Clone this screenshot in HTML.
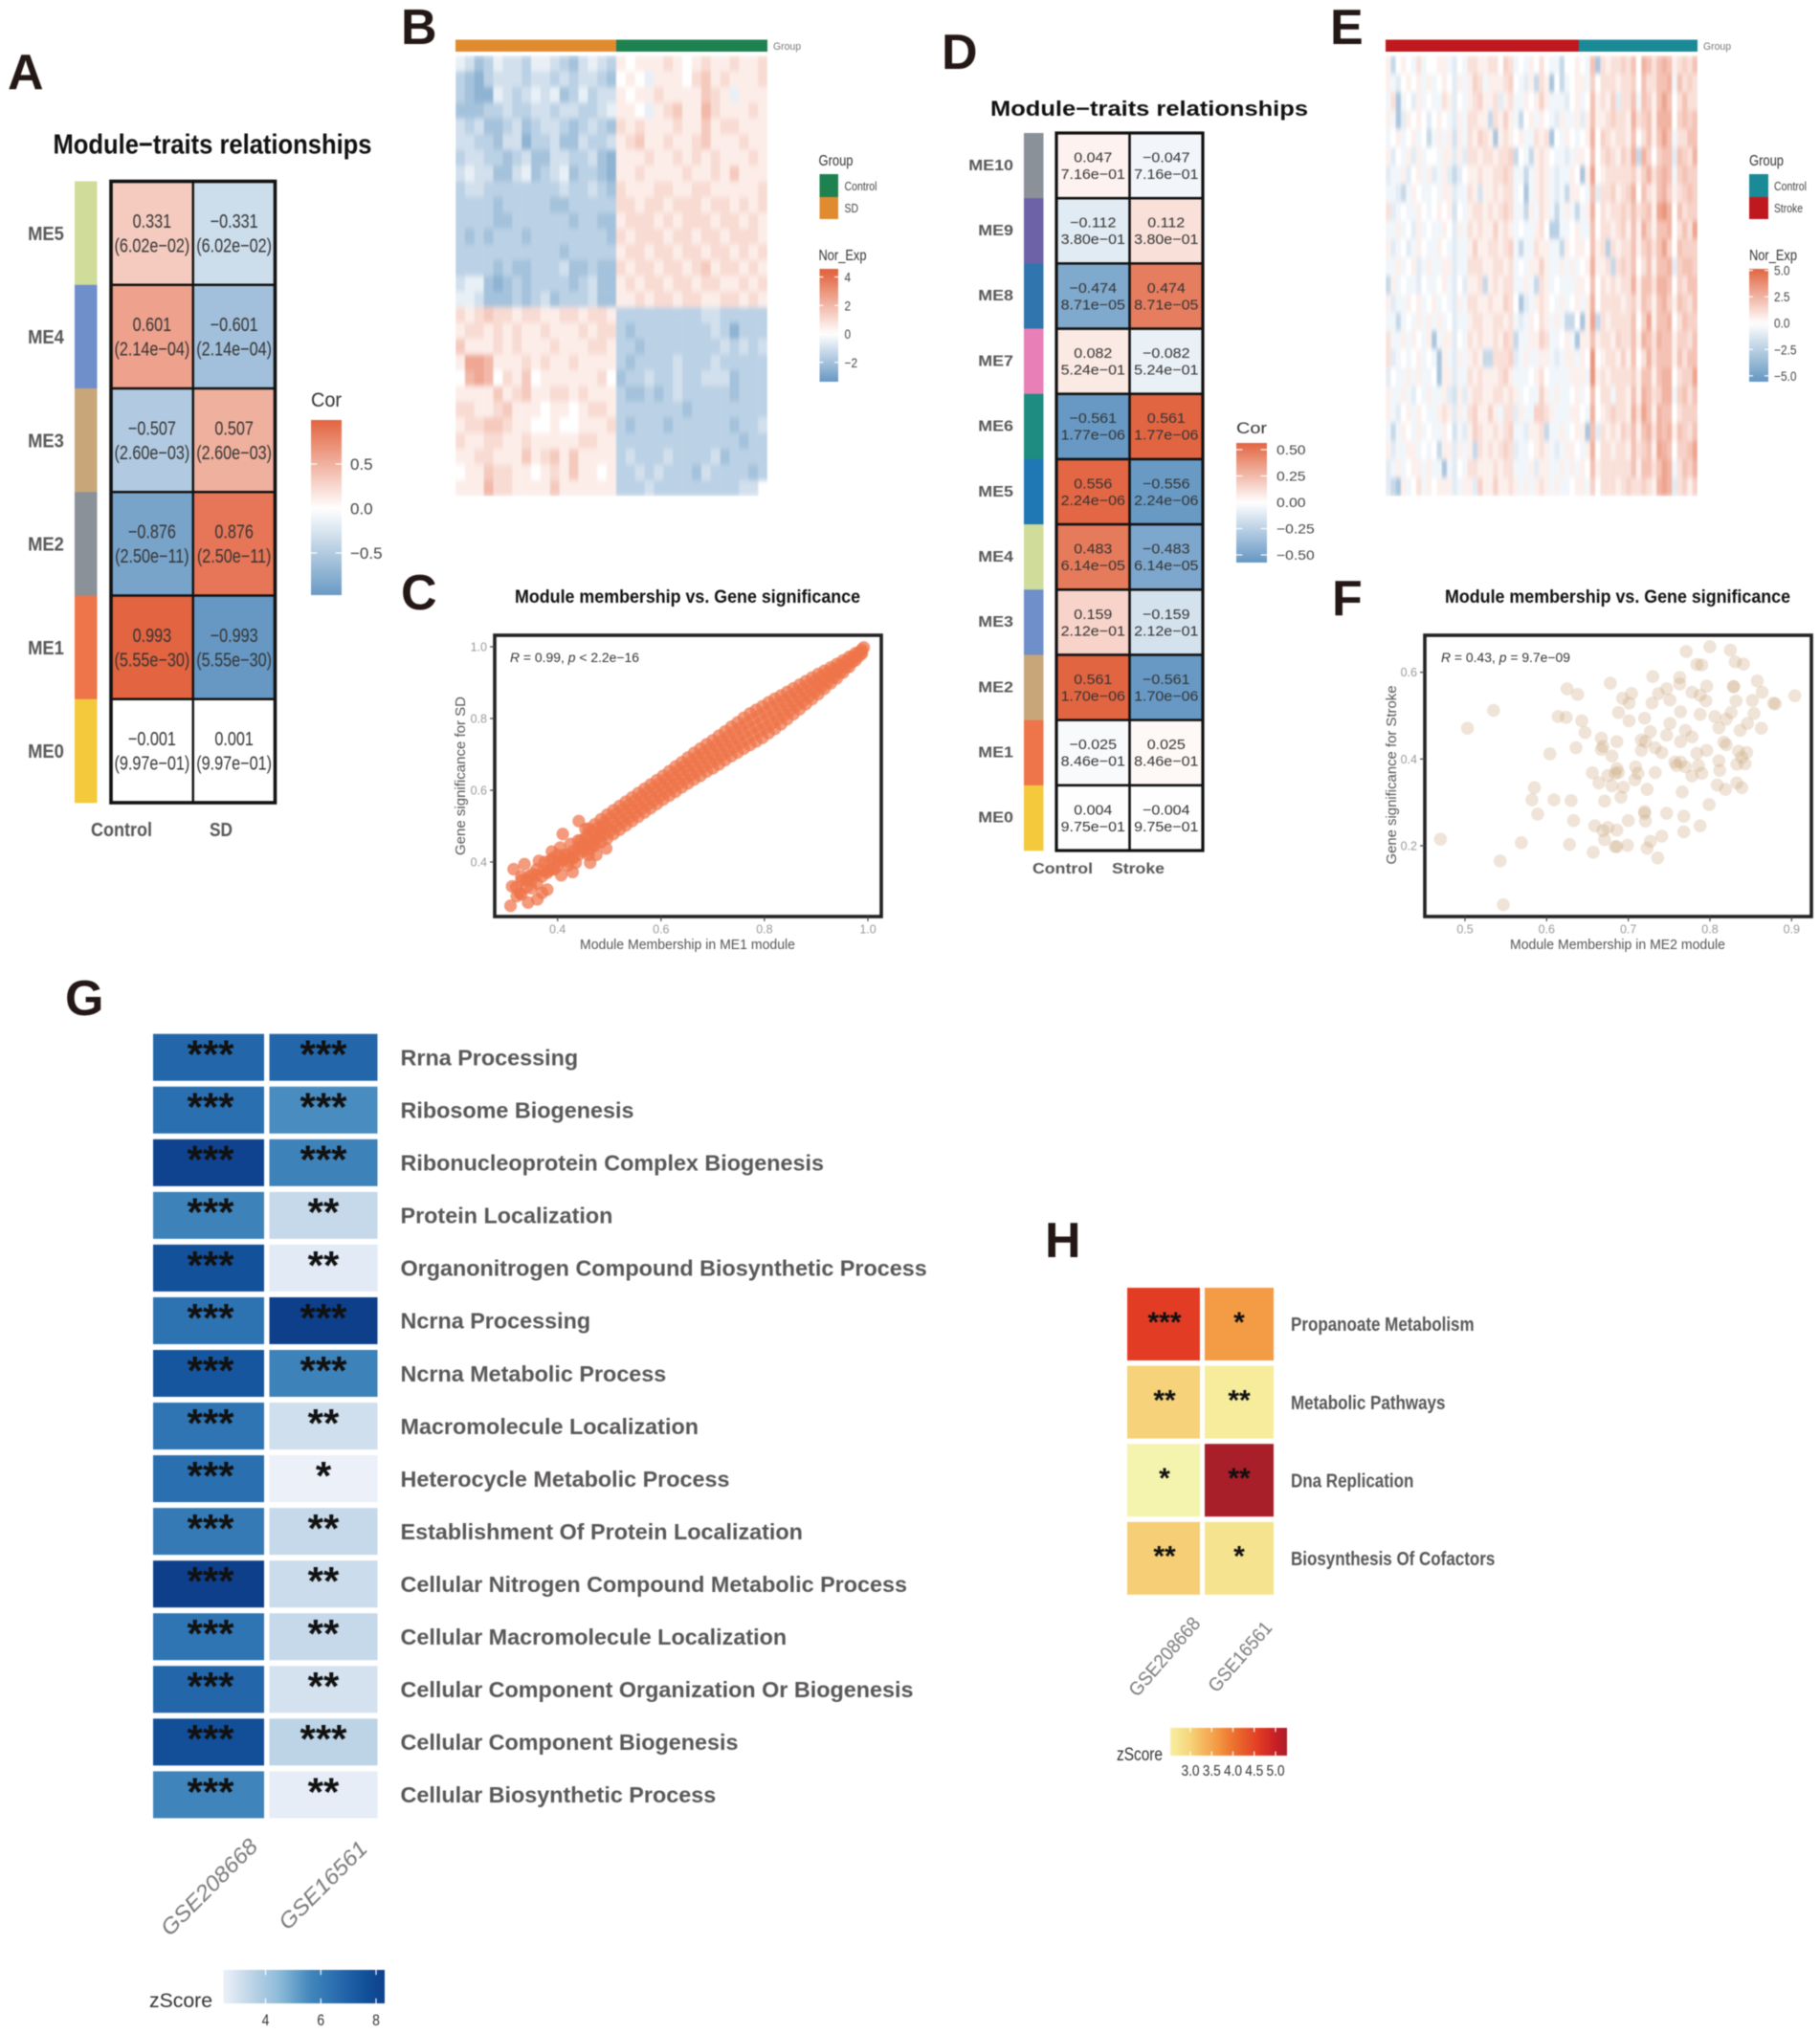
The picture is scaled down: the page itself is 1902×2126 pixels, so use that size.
<!DOCTYPE html>
<html lang="en">
<head>
<meta charset="utf-8">
<title>Module-trait relationships figure</title>
<style>
html,body{margin:0;padding:0;background:#fff}
#figure{display:block;filter:blur(.55px);font-family:"Liberation Sans",sans-serif}
.letter{font-size:52px;font-weight:bold;fill:#231815}
.scatter-title{font-size:19px;font-weight:bold;fill:#111}
.axis-title{font-size:15px;fill:#555}
.stat{font-size:14px;fill:#333}
.leg-title{font-size:15.5px;fill:#333}
.leg-label{font-size:13px;fill:#444}
.side-label{font-size:11px;fill:#777}
.gse{font-size:23px;fill:#7a7a7a}
.trait-col{font-weight:bold;fill:#595757}
</style>
</head>
<body>
<svg id="figure" xmlns="http://www.w3.org/2000/svg" width="1902" height="2126" viewBox="0 0 1902 2126">
<defs id="defs"></defs>
<rect x="0" y="0" width="1902" height="2126" fill="#fff"/>

<text class="letter" x="8" y="93">A</text>
<text class="letter" x="419" y="46">B</text>
<text class="letter" x="419" y="637">C</text>
<text class="letter" x="984" y="72">D</text>
<text class="letter" x="1390" y="46">E</text>
<text class="letter" x="1392" y="643">F</text>
<text class="letter" x="68" y="1061">G</text>
<text class="letter" x="1092" y="1314">H</text>

<g id="panel-a">
<text x="222" y="160.5" text-anchor="middle" font-size="29" font-weight="bold" fill="#111" textLength="333" lengthAdjust="spacingAndGlyphs">Module−traits relationships</text>
<text class="trait-col" x="127" y="874" text-anchor="middle" font-size="20" textLength="64" lengthAdjust="spacingAndGlyphs">Control</text>
<text class="trait-col" x="231" y="874" text-anchor="middle" font-size="20" textLength="24" lengthAdjust="spacingAndGlyphs">SD</text>
<text x="325" y="425" font-size="21" fill="#333" textLength="32" lengthAdjust="spacingAndGlyphs">Cor</text>
</g>

<g id="panel-b">
<rect x="476" y="41.5" width="168" height="12.5" fill="#e08b2f"/>
<rect x="644" y="41.5" width="158" height="12.5" fill="#1d8250"/>
<text class="side-label" x="808" y="52" textLength="29" lengthAdjust="spacingAndGlyphs">Group</text>
<text class="leg-title" x="855.5" y="173" textLength="36" lengthAdjust="spacingAndGlyphs">Group</text>
<rect x="856.5" y="182" width="19.5" height="24" fill="#1d8250"/>
<rect x="856.5" y="206" width="19.5" height="23" fill="#e08b2f"/>
<text class="leg-label" x="882.5" y="199" textLength="34" lengthAdjust="spacingAndGlyphs">Control</text>
<text class="leg-label" x="882.5" y="222" textLength="14.5" lengthAdjust="spacingAndGlyphs">SD</text>
<text class="leg-title" x="855.5" y="272" textLength="50" lengthAdjust="spacingAndGlyphs">Nor_Exp</text>
</g>

<g id="panel-c">
<text class="scatter-title" x="718.5" y="630" text-anchor="middle" textLength="361" lengthAdjust="spacingAndGlyphs">Module membership vs. Gene significance</text>
<text class="axis-title" x="718.5" y="992" text-anchor="middle" textLength="225" lengthAdjust="spacingAndGlyphs">Module Membership in ME1 module</text>
<text class="axis-title" transform="translate(486 811) rotate(-90)" text-anchor="middle" textLength="166" lengthAdjust="spacingAndGlyphs">Gene significance for SD</text>
</g>

<g id="panel-d">
<text x="1201" y="121" text-anchor="middle" font-size="22" font-weight="bold" fill="#111" textLength="332" lengthAdjust="spacingAndGlyphs">Module−traits relationships</text>
<text class="trait-col" x="1110.5" y="913" text-anchor="middle" font-size="16" textLength="63" lengthAdjust="spacingAndGlyphs">Control</text>
<text class="trait-col" x="1189.5" y="913" text-anchor="middle" font-size="16" textLength="55" lengthAdjust="spacingAndGlyphs">Stroke</text>
<text x="1292" y="453" font-size="17" fill="#333" textLength="32" lengthAdjust="spacingAndGlyphs">Cor</text>
</g>

<g id="panel-e">
<rect x="1448" y="41.5" width="202" height="12.5" fill="#c0181f"/>
<rect x="1650" y="41.5" width="124" height="12.5" fill="#1a8a96"/>
<text class="side-label" x="1780" y="52" textLength="29" lengthAdjust="spacingAndGlyphs">Group</text>
<text class="leg-title" x="1828" y="173" textLength="36" lengthAdjust="spacingAndGlyphs">Group</text>
<rect x="1828" y="182" width="20" height="24" fill="#1a8a96"/>
<rect x="1828" y="206" width="20" height="23" fill="#c0181f"/>
<text class="leg-label" x="1854" y="199" textLength="34" lengthAdjust="spacingAndGlyphs">Control</text>
<text class="leg-label" x="1854" y="222" textLength="30" lengthAdjust="spacingAndGlyphs">Stroke</text>
<text class="leg-title" x="1828" y="272" textLength="50" lengthAdjust="spacingAndGlyphs">Nor_Exp</text>
</g>

<g id="panel-f">
<text class="scatter-title" x="1690.5" y="630" text-anchor="middle" textLength="361" lengthAdjust="spacingAndGlyphs">Module membership vs. Gene significance</text>
<text class="axis-title" x="1690.5" y="992" text-anchor="middle" textLength="225" lengthAdjust="spacingAndGlyphs">Module Membership in ME2 module</text>
<text class="axis-title" transform="translate(1459 810) rotate(-90)" text-anchor="middle" textLength="187" lengthAdjust="spacingAndGlyphs">Gene significance for Stroke</text>
</g>

<g id="panel-g">
<text class="gse" font-style="italic" transform="translate(224 1978) rotate(-45)" text-anchor="middle" textLength="132" lengthAdjust="spacingAndGlyphs">GSE208668</text>
<text class="gse" font-style="italic" transform="translate(343 1976) rotate(-45)" text-anchor="middle" textLength="120" lengthAdjust="spacingAndGlyphs">GSE16561</text>
<text x="156" y="2098" font-size="21" fill="#333" textLength="66" lengthAdjust="spacingAndGlyphs">zScore</text>
</g>

<g id="panel-h">
<text class="gse" style="font-size:20px" transform="translate(1222 1736) rotate(-49)" text-anchor="middle" textLength="102" lengthAdjust="spacingAndGlyphs">GSE208668</text>
<text class="gse" style="font-size:20px" transform="translate(1301 1736) rotate(-49)" text-anchor="middle" textLength="90" lengthAdjust="spacingAndGlyphs">GSE16561</text>
<text x="1167" y="1840" font-size="19" fill="#333" textLength="48" lengthAdjust="spacingAndGlyphs">zScore</text>
</g>
</svg>

<script>
/* ---------- Panel A data ---------- */
const modulesA = ['ME5','ME4','ME3','ME2','ME1','ME0'];
const corA1 = [0.331,0.601,-0.507,-0.876,0.993,-0.001];
const corA2 = [-0.331,-0.601,0.507,0.876,-0.993,0.001];
const pvalA = ['6.02e−02','2.14e−04','2.60e−03','2.50e−11','5.55e−30','9.97e−01'];
const colorsA = ['#cfdc9a','#6f8fcb','#c9a67a','#8b9199','#ee7549','#f4c93c'];
const ticksA = [0.5,0,-0.5];

/* ---------- Panel D data ---------- */
const modulesD = ['ME10','ME9','ME8','ME7','ME6','ME5','ME4','ME3','ME2','ME1','ME0'];
const corD1 = [0.047,-0.112,-0.474,0.082,-0.561,0.556,0.483,0.159,0.561,-0.025,0.004];
const corD2 = [-0.047,0.112,0.474,-0.082,0.561,-0.556,-0.483,-0.159,-0.561,0.025,-0.004];
const pvalD = ['7.16e−01','3.80e−01','8.71e−05','5.24e−01','1.77e−06','2.24e−06','6.14e−05','2.12e−01','1.70e−06','8.46e−01','9.75e−01'];
const colorsD = ['#8b9199','#6d62a8','#3075ad','#e87fb6','#1e8c80','#1f78b4','#cfdc9a','#6f8fcb','#c9a67a','#ee7549','#f4c93c'];
const ticksD = [0.5,0.25,0,-0.25,-0.5];

/* ---------- Panel B expression (17 SD + 16 Control samples, binned rows) ---------- */
const ticksB = [4,2,0,-2];
const exprB = [
[-.5,-1,-2,-1.5,-.5,-1,-1,-1.5,-.5,-.5,-1,-1.5,-2,-1,-.5,-1,-1.5,.5,0,.5,.5,.5,1,.5,0,.5,1,.5,.5,1,.5,.5,1],
[-1.5,-2,-2.5,-1.5,-1,-1,-1,-1.5,-1,-1,-1.5,-1,-1.5,-1,-1,-1.5,-2,0,.5,0,-.5,.5,.5,.5,0,1,1.5,.5,1,.5,.5,.5,1],
[-1.5,-2,-2.5,-2.5,-.5,-1,-1.5,-1,-.5,-1,-.5,-2,-1.5,-.5,-1.5,-1,-1,.5,0,.5,.5,1,.5,.5,.5,.5,1.5,1,.5,-.5,.5,.5,.5],
[-2,-2,-2,-1.5,-1.5,-1,-1.5,-1.5,-1,-1,-1.5,-1,-1,-1.5,-1.5,-1,-.5,.5,.5,0,-.5,.5,1,1.5,.5,.5,2,1,.5,.5,.5,1,.5],
[-1,-1.5,-1,-2,-2,-1.5,-1,-2,-1.5,-1,-1,-1.5,-2,-1.5,-1,-1.5,-2,1,.5,1,.5,.5,.5,1,.5,.5,1.5,.5,1,1,.5,.5,.5],
[-1,-1,-1.5,-1.5,-2,-1,-1,-2.5,-1.5,-1.5,-1,-2,-2,-1,-1.5,-1.5,-1,.5,1,1.5,.5,.5,1,.5,.5,1,1.5,.5,.5,.5,1,.5,.5],
[-1.5,-1,-1,-1.5,-1.5,-2,-1.5,-1,-2,-2,-1,-1,-1.5,-1.5,-1,-2,-2.5,.5,.5,.5,1,.5,.5,1,.5,1,.5,1,.5,.5,.5,1,.5],
[-1,-.5,-1,-1,-2,-2,-1,-.5,-2,-1.5,-1,-.5,-2,-1.5,-1.5,-2,-2.5,.5,.5,1,.5,.5,.5,.5,1,.5,.5,1,.5,1.5,.5,.5,.5],
[-1.5,-1,-1,-1.5,-1.5,-1.5,-1.5,-1.5,-1.5,-1.5,-1.5,-1,-1.5,-1.5,-1,-1.5,-2,1,.5,.5,.5,1,1,.5,.5,1,1,.5,.5,.5,.5,.5,1],
[-1.5,-1.5,-1.5,-1.5,-2,-1.5,-1.5,-1.5,-1.5,-1.5,-2,-2,-1.5,-1.5,-1.5,-1.5,-1.5,1,1,.5,1,1,.5,1,1,1,.5,1,1,.5,1,.5,1],
[-1.5,-1.5,-1.5,-1.5,-2,-2,-1.5,-1.5,-1.5,-1.5,-1.5,-1.5,-2,-1.5,-1.5,-2,-2,.5,1,1,1,.5,1,.5,1,1,1,.5,1,1,.5,1,.5],
[-1.5,-2,-1.5,-2,-1.5,-1.5,-1.5,-2,-1.5,-1.5,-1.5,-1.5,-1.5,-1.5,-1.5,-1.5,-2,1,.5,1,1,1,.5,1,1,.5,1,1,.5,1,1,1,.5],
[-1.5,-1.5,-1.5,-1.5,-1.5,-1.5,-1.5,-1.5,-1.5,-1.5,-1.5,-2,-1.5,-1.5,-1.5,-1.5,-1.5,.5,1,1,.5,1,1,.5,1,1,.5,1,1,.5,1,.5,1],
[-1.5,-1.5,-1.5,-1.5,-2,-1.5,-2,-2,-1.5,-1.5,-1.5,-1,-2,-2,-1.5,-2,-2,1,.5,1,1,.5,1,1,.5,1,1.5,.5,1,1,.5,1,.5],
[-1,-.5,-.5,-2,-2.5,-2,-1.5,-2,-1.5,-1.5,-1.5,-1.5,-2,-1.5,-1,-2,-2,.5,1,.5,1,1,.5,1,1,.5,1,1,.5,.5,1,.5,1],
[-.5,-.5,-1,-2,-2,-2,-1.5,-2,-1.5,-1,-2,-1.5,-1.5,-1.5,-1,-2,-2,.5,.5,1,.5,1,1,.5,1,1,.5,.5,1,1,.5,1,.5],
[1,.5,1,1.5,1,1,.5,1,1,.5,.5,1,1,.5,1,1,.5,-1.5,-1.5,-1.5,-1.5,-1.5,-1.5,-1.5,-1.5,-1.5,-1,-1,-1.5,-1.5,-1.5,-1.5,-1.5],
[.5,1,1,.5,1,.5,1,.5,.5,1,.5,.5,.5,1,.5,1,1,-1.5,-2,-1.5,-1.5,-1.5,-1.5,-1.5,-1.5,-1.5,-1.5,-1,-1.5,-2.5,-1.5,-1.5,-1.5],
[1.5,.5,.5,.5,1,.5,1,.5,.5,.5,1,.5,.5,.5,1,1,.5,-1.5,-1.5,-2,-1.5,-1.5,-1.5,-1.5,-1.5,-1.5,-1.5,-1.5,-1,-1.5,-1,-1.5,-1],
[.5,2.5,2.5,2,.5,.5,.5,1,.5,1,.5,.5,1,.5,.5,.5,.5,-1.5,-2,-1.5,-1.5,-1.5,-1.5,-1,-1.5,-1.5,-1.5,-1,-1.5,-1.5,-1.5,-1.5,-1.5],
[0,2,2.5,2,0,1,.5,1.5,0,.5,.5,.5,.5,.5,.5,1,0,-2,-1.5,-1.5,-1,-1.5,-1.5,-1,-1.5,-1.5,-1,-1,-1,-2,-1.5,-1.5,-1.5],
[.5,.5,.5,.5,1.5,.5,1,1.5,.5,.5,1,1,.5,1,.5,.5,.5,-1.5,-2,-2,-1.5,-2,-1.5,-1,-1.5,-1.5,-1.5,-1.5,-1.5,-2,-1.5,-1.5,-1.5],
[1,1,.5,.5,1,1.5,.5,.5,.5,0,.5,.5,0,.5,1,1,.5,-1.5,-1.5,-1.5,-1.5,-1.5,-1.5,-1.5,-2,-1.5,-1.5,-1.5,-1.5,-1.5,-1.5,-1.5,-1.5],
[.5,1,1,1.5,1.5,1,.5,.5,0,0,.5,0,0,.5,.5,.5,1,-1.5,-2,-1.5,-1.5,-1.5,-2,-1.5,-1.5,-1.5,-1.5,-1.5,-1.5,-2,-1.5,-1.5,-1],
[1,.5,.5,1,1,.5,.5,1,.5,.5,.5,.5,.5,1,1,.5,.5,-1.5,-1.5,-1.5,-1.5,-1.5,-1.5,-1.5,-1.5,-1.5,-1.5,-1.5,-1.5,-1.5,-2,-1.5,-1.5],
[.5,.5,1,1,.5,.5,.5,1.5,.5,1,1.5,.5,1.5,.5,.5,.5,.5,-1.5,-1,-1.5,-1.5,-1.5,-1,-1.5,-1.5,-1.5,-1.5,-1,-2,-1.5,-1.5,-1.5,-1.5],
[0,.5,.5,1.5,1,1,.5,.5,0,.5,1,.5,1.5,.5,.5,0,.5,-1.5,-1.5,-1,-1.5,-1,-1.5,-1.5,-1.5,-2,-1,-1.5,-1.5,-1.5,-1.5,-2,-1.5],
[.5,.5,.5,2,1,1,.5,.5,.5,.5,1.5,.5,.5,.5,.5,.5,.5,-1.5,-1.5,-1.5,-1,-1.5,-1.5,-1.5,-1.5,-1.5,-1.5,-1.5,-1.5,-1.5,-1,-1]
];

/* ---------- Panel E expression (38 Stroke + 23 Control samples, binned rows) ---------- */
const ticksE = [5,2.5,0,-2.5,-5];
const exprE = [
[.5,-2,0,.5,0,-.5,1,-.5,0,0,.5,.5,-.5,-1,0,-.5,1,1,.5,.5,1,1,0,1.5,1,-.5,0,-.5,.5,0,1,0,-.5,-.5,-2,0,0,.5,0,-.5,2,-3,1,.5,1,1,1.5,1,2,0,2.5,2,1,2,2.5,2,.5,1,1.5,1,2],
[.5,-.5,-1,0,.5,0,.5,-.5,.5,-.5,0,.5,0,-1,.5,-.5,.5,1.5,1,-.5,.5,.5,.5,1,1.5,0,-.5,-1,.5,-2,1,.5,-3,0,-2,-.5,0,.5,.5,-.5,1.5,0,1,1,1,.5,1,1,1.5,0,2,1,1,2,2,2.5,-.5,2,1,1.5,1],
[-.5,1,-3,-.5,0,-1,.5,-.5,0,-.5,-.5,1,.5,-1,0,-.5,.5,1,1.5,.5,.5,1,-1,.5,1,-.5,-.5,.5,0,.5,1.5,.5,-.5,-.5,-.5,-1,0,.5,-.5,0,2,.5,1,.5,1.5,-1,1,1,2,-.5,2,1.5,.5,2,3,2,0,1,2,1,1],
[.5,-.5,-3,-1,.5,0,.5,0,-1,0,.5,0,-.5,-1,.5,-.5,1,1,.5,.5,-2,1,.5,1.5,.5,-.5,-2,0,.5,-.5,.5,0,-.5,-1,.5,-.5,-.5,.5,-1,.5,2,.5,.5,1,1.5,1,1,.5,2.5,1,1.5,2,.5,2.5,2.5,2.5,0,1.5,2,1.5,2],
[-.5,0,.5,-.5,0,.5,-.5,0,-2,-.5,.5,-.5,.5,-1.5,.5,-.5,1,.5,1.5,1,.5,-3,.5,1,.5,0,.5,-.5,-.5,1,.5,1,-3,0,-.5,.5,0,-.5,0,.5,2.5,0,1.5,1,.5,1,1,.5,2,0,1,2,.5,2,3,2,-.5,1,1,2,2],
[.5,-1,0,-.5,.5,-1,.5,-.5,0,0,-.5,.5,.5,-1,.5,-1,1,1,.5,1,1,.5,1,1,1.5,-2,0,-.5,-2,.5,1,.5,0,-.5,-.5,-1,-.5,.5,.5,0,2,0,1,1.5,1,.5,1.5,1,2.5,-2,2.5,1.5,0,1.5,2,2,-1,2,1.5,1,2.5],
[-1,-.5,-.5,.5,-1,0,.5,-.5,.5,-1,-.5,.5,-1,-2,-1,0,.5,.5,1,.5,.5,1,1,1.5,1,-.5,-.5,-2,-.5,.5,1,.5,-.5,-1,-.5,-.5,.5,0,-3,.5,3,0,.5,1,1,1,1,1,1.5,.5,1.5,2.5,1,2,2.5,2,-.5,1.5,2,1.5,1.5],
[-.5,-.5,-1,-2,-.5,.5,0,-.5,-.5,0,-.5,.5,.5,-1,-.5,-.5,1,.5,-1.5,.5,.5,1,.5,1,1,-.5,0,-3,-.5,.5,1,.5,-.5,-1,-.5,-2,.5,.5,0,-.5,2,-1,1,1,1.5,.5,1,1.5,2.5,0,2,1,.5,2,2.5,1.5,.5,1,1.5,2,1.5],
[1,-1,-.5,0,-.5,-.5,.5,0,-.5,0,.5,0,.5,-1.5,0,-.5,.5,1,1,.5,1,.5,1,1.5,1,-.5,-.5,-2,.5,-.5,1,.5,-.5,-2,-.5,.5,-.5,-2,-.5,.5,2.5,0,1,.5,1,1,1.5,1,2,1,1.5,2,.5,3,3.5,2.5,0,2,1,1.5,1.5],
[-.5,-.5,.5,-.5,0,-1,.5,-.5,0,-.5,-.5,.5,0,-1,.5,-.5,1,.5,1,.5,.5,1.5,.5,1,.5,-.5,0,-.5,-.5,.5,1,0,-2.5,-2.5,-.5,-.5,0,.5,-.5,-.5,2,0,1,1,.5,1,1.5,.5,2,.5,2.5,1.5,.5,2,2,2.5,0,1,2,1,3],
[.5,-1,-.5,0,-1,-.5,.5,0,-.5,-.5,.5,0,-.5,-1,-.5,-.5,.5,1.5,.5,.5,1,1,.5,1,1.5,-.5,-2,-.5,-.5,1,.5,.5,-.5,-.5,-2,.5,0,.5,.5,0,2,.5,1,-2.5,1,.5,1,1,2,.5,1.5,2,1,2,3,1.5,0,2,1.5,1.5,1.5],
[-.5,-.5,.5,-.5,0,.5,-1,-.5,.5,-.5,-.5,.5,.5,-1,-.5,-.5,1,1,1,.5,.5,1,1,.5,1,-.5,0,-.5,.5,.5,1.5,.5,-.5,-.5,.5,-.5,.5,-.5,0,.5,2.5,.5,.5,1,-2,1,1.5,1,2,0,1,2,.5,2,2,2.5,-1,1.5,2,2,1.5],
[-2,.5,-.5,0,-.5,-.5,-1,0,-.5,-.5,0,.5,-.5,-1,0,-1,.5,.5,1,-2,.5,1,.5,1,1,-.5,-.5,.5,-.5,-2,1,.5,-.5,0,-.5,-.5,-.5,.5,.5,0,2,0,1,.5,1,.5,1,1,2.5,.5,2,2,1,2.5,2.5,2,0,1.5,1,2,2],
[.5,-1,-.5,-.5,.5,0,.5,-.5,0,.5,-.5,0,-.5,-1,.5,-.5,1,1,.5,.5,1,.5,.5,1.5,1,0,-3,-1,-.5,.5,1,.5,0,-.5,.5,-.5,0,.5,-.5,.5,2.5,0,1,1,1,1,.5,1,1.5,.5,2,1.5,.5,2,2.5,1.5,.5,2,1.5,1,2],
[-.5,-.5,-2,-.5,0,-.5,.5,-.5,.5,-.5,.5,-.5,0,-1,-.5,-.5,.5,1,1,.5,.5,1,1,.5,1,-.5,-1,-.5,.5,0,1,.5,-.5,.5,-.5,-2,-2,0,-3,.5,3,-2,1,.5,1,1,1,1,2,0,1.5,3,.5,2,2,2.5,0,1,2,1.5,1.5],
[1,-.5,-.5,.5,-.5,.5,0,-.5,.5,-3,-.5,.5,.5,-1,0,-.5,1,.5,1,.5,.5,1,.5,1.5,1,-2,-.5,-.5,.5,.5,1.5,1,-.5,-.5,0,.5,-.5,-3,.5,.5,2,.5,1,1,.5,1.5,1,1,2,.5,2.5,2,1,2.5,2,2,.5,1.5,1.5,1,2],
[1,-1,-.5,0,-.5,0,.5,-.5,0,-.5,-3,.5,-.5,-1,.5,-.5,.5,1,.5,-2,-2,1,1,1,1.5,-1,-.5,.5,-.5,-.5,.5,.5,-.5,-1,-.5,.5,.5,-.5,.5,0,3.5,0,.5,1,1,.5,1.5,.5,2,0,1,2.5,1,2,2,2,.5,2,1,2,2],
[-1,0,-.5,-.5,.5,-.5,.5,-.5,-.5,0,-3,.5,.5,-1,-.5,-.5,1,.5,1,.5,.5,.5,1,1.5,.5,-.5,-.5,-.5,0,.5,1,0,-.5,-.5,-.5,-.5,.5,.5,.5,-.5,3.5,.5,1,.5,1,1,1,1,1.5,.5,2,2,.5,2,2.5,2.5,0,1,1.5,1.5,3],
[.5,-.5,-.5,.5,-.5,-1,0,-.5,.5,-.5,-.5,.5,-1,-1.5,.5,-1,.5,1,1,.5,.5,1,1,.5,1,.5,-.5,0,-.5,-.5,1.5,.5,-.5,.5,-.5,-.5,0,.5,-.5,0,2,0,1,1,-.5,1,1,.5,2,.5,2.5,2,1,1.5,2.5,2.5,-.5,1.5,2,1,2],
[.5,-.5,-1,0,.5,-.5,.5,0,-.5,-.5,.5,1,.5,-1,.5,-.5,1,1.5,.5,.5,1.5,.5,-.5,1,1,-1,.5,-.5,-.5,1.5,1.5,1,.5,-.5,-.5,-.5,.5,.5,0,-.5,2.5,0,.5,1,1.5,1,1,.5,2.5,1,3,2,.5,2.5,2,2,0,1,1.5,1.5,1.5],
[-.5,-2,-.5,.5,0,-.5,.5,-.5,0,-.5,-.5,.5,0,-1.5,-.5,-1,.5,1.5,1,.5,.5,1,.5,1,1.5,-.5,-.5,-1,.5,.5,1,-2,-.5,-.5,.5,-.5,0,.5,.5,-3,2,-1,1,.5,1,.5,1.5,1,2,.5,2,2.5,1,2.5,2,2.5,.5,2,1.5,1,2],
[.5,-1,-.5,-.5,.5,.5,-.5,0,-.5,0,-2,.5,.5,-1,.5,-.5,.5,-2,1,.5,1,.5,1,1.5,1,-1,-.5,-.5,0,.5,1,.5,-.5,-1,-.5,.5,.5,0,-.5,.5,2.5,0,1,1,.5,1,1,.5,2,1,1.5,2,.5,3,2.5,2,0,1.5,1.5,2,3],
[-1,-.5,.5,-.5,0,.5,.5,-.5,.5,-.5,-.5,-3,-.5,-1,0,-.5,1,1,.5,.5,.5,1,.5,1,1,-.5,-.5,-.5,.5,-1,.5,.5,-.5,-.5,.5,-.5,.5,-.5,.5,0,2,.5,1,1,1,1,1,1,2,.5,2,2,1,2,3,2.5,-.5,1,2,1.5,2.5],
[-1,-2,-3,.5,-.5,0,1,-.5,.5,0,.5,.5,.5,-1,-.5,.5,.5,-1,1.5,.5,.5,1.5,.5,.5,1,.5,-.5,.5,-.5,.5,1,.5,-.5,.5,-.5,-.5,0,.5,.5,-.5,1.5,0,1,1,1,.5,1,1.5,1,1,1.5,1,.5,2.5,3,2.5,-1,1,1.5,.5,1.5]
];

/* ---------- Panel C scatter ---------- */
const xTicksC = [0.4,0.6,0.8,1.0];
const yTicksC = [0.4,0.6,0.8,1.0];
const mmC = [.309,.312,.315,.33,.336,.343,.349,.358,.364,.361,.37,.38,.386,.389,.401,.407,.414,.41,.42,.429,.441,.435,.447,.454,.463,.469,.475,.481,.488,.494,.327,.34,.352,.321,.373,.394,.383,.42,.43,.44,.45,.41,.43,.445,
.32,.33,.34,.35,.36,.37,.38,.39,.4,.41,.4,.42,.43,.44,.45,.44,.455,.46,.33,.345,.36,.375,.39,.405,.425,
.46,.46,.46,.466,.466,.472,.472,.472,.478,.478,.484,.484,.484,.49,.49,.496,.496,.496,.502,.502,.508,.508,.508,.514,.514,.52,.52,.52,.526,.526,.532,.532,.532,.538,.538,.544,.544,.544,.55,.55,.556,.556,.556,.562,.562,.568,.568,.568,.574,.574,.58,.58,.58,.586,.586,.592,.592,.592,.598,.598,.604,.604,.604,.61,.61,.616,.616,.616,.622,.622,.628,.628,.628,.634,.634,.64,.64,.64,.646,.646,.652,.652,.652,.658,.658,.664,.664,.664,.67,.67,.676,.676,.676,.682,.682,.688,.688,.688,.694,.694,.7,.7,.7,.706,.706,.712,.712,.712,.718,.718,.724,.724,.724,.73,.73,.736,.736,.736,.742,.742,.748,.748,.748,.754,.754,.76,.76,.76,.766,.766,.772,.772,.772,.778,.778,.784,.784,.784,.79,.79,.796,.796,.796,.802,.802,.808,.808,.808,.814,.814,.82,.82,.82,.826,.826,.832,.832,.832,.838,.838,.844,.844,.844,.85,.85,.856,.856,.856,.862,.862,.868,.868,.868,.874,.874,.88,.88,.88,.886,.886,.892,.892,.892,.898,.898,.904,.904,.904,.91,.91,.916,.916,.916,.922,.922,.928,.928,.928,.934,.934,.94,.94,.94,.946,.946,.952,.952,.952,.958,.958,.964,.964,.964,.97,.97,.976,.976,.976,.982,.982,.988,.988,.988,.992];
const gsC = [.278,.332,.38,.349,.394,.287,.327,.363,.403,.296,.314,.323,.403,.429,.403,.363,.42,.478,.403,.372,.514,.398,.438,.492,.398,.447,.42,.474,.5,.438,.314,.349,.367,.305,.376,.38,.376,.42,.43,.44,.45,.405,.415,.46,
.33,.31,.33,.35,.34,.36,.37,.38,.39,.41,.42,.39,.41,.42,.43,.46,.47,.42,.36,.36,.38,.4,.41,.44,.45,
.433,.463,.493,.454,.484,.445,.475,.505,.466,.496,.455,.487,.519,.477,.509,.466,.499,.532,.488,.522,.478,.511,.544,.5,.534,.49,.523,.556,.512,.546,.502,.535,.568,.524,.558,.514,.547,.58,.536,.57,.526,.559,.592,.548,.582,.538,.571,.604,.56,.594,.55,.583,.616,.572,.606,.562,.595,.628,.584,.618,.574,.607,.64,.596,.63,.585,.619,.653,.608,.642,.596,.631,.666,.619,.655,.608,.643,.678,.631,.667,.619,.655,.691,.643,.679,.63,.667,.704,.654,.692,.64,.678,.716,.665,.703,.652,.69,.728,.677,.715,.661,.7,.739,.686,.726,.672,.712,.752,.698,.738,.684,.724,.764,.71,.75,.695,.736,.777,.721,.763,.705,.747,.789,.732,.774,.716,.759,.802,.743,.787,.726,.77,.814,.754,.798,.736,.78,.824,.764,.808,.746,.79,.834,.774,.818,.759,.802,.845,.786,.83,.771,.813,.855,.798,.84,.784,.824,.864,.81,.85,.798,.836,.874,.823,.861,.812,.848,.884,.836,.872,.826,.86,.894,.849,.883,.84,.872,.904,.862,.894,.854,.884,.914,.875,.905,.868,.896,.924,.888,.916,.883,.908,.933,.902,.926,.898,.92,.942,.915,.937,.912,.932,.952,.928,.948,.928,.945,.962,.943,.959,.944,.958,.972,.958,.972,.962,.972,.982,.973,.983,.98,.986,.992,.998];

/* ---------- Panel F scatter ---------- */
const xTicksF = [0.5,0.6,0.7,0.8,0.9];
const yTicksF = [0.2,0.4,0.6];
const mmF = [.47,.503,.535,.543,.547,.569,.585,.582,.589,.604,.609,.63,.628,.633,.636,.614,.624,.625,.638,.643,.647,.656,.664,.659,.669,.675,.671,.657,.678,.688,.693,.704,.701,.701,.72,.73,.729,.737,.747,.751,.763,.763,.764,.771,.784,.79,.8,.825,.831,.841,.796,.778,.788,.795,.788,.829,.829,.832,.826,.82,.806,.811,.837,.846,.854,.858,.864,.852,.863,.88,.904,.878,.667,.669,.667,.686,.68,.716,.721,.716,.727,.733,.741,.751,.747,.764,.77,.778,.784,.796,.817,.82,.811,.835,.845,.839,.833,.843,.757,.764,.759,.77,.778,.79,.786,.812,.733,.686,.684,.675,.688,.709,.712,.708,.694,.68,.691,.671,.723,.766,.809,.819,.833,.839,.799,.768,.768,.788,.747,.741,.727,.723,.736,.72,.721,.7,.686,.699,.686,.684,.72];
const gsF = [.215,.471,.512,.165,.064,.207,.334,.306,.273,.412,.306,.304,.203,.258,.426,.498,.496,.562,.549,.488,.461,.368,.345,.246,.235,.242,.214,.185,.575,.507,.54,.551,.529,.488,.494,.59,.529,.551,.562,.536,.588,.573,.509,.648,.618,.617,.659,.651,.624,.619,.568,.554,.547,.534,.503,.567,.567,.534,.507,.492,.498,.472,.466,.482,.505,.58,.554,.535,.471,.527,.546,.529,.448,.429,.422,.44,.407,.444,.44,.42,.463,.426,.415,.482,.455,.44,.466,.451,.413,.42,.439,.433,.396,.418,.415,.404,.388,.389,.393,.393,.385,.382,.361,.367,.385,.374,.369,.378,.367,.362,.369,.382,.367,.352,.335,.338,.312,.303,.33,.324,.34,.33,.345,.334,.295,.268,.232,.246,.275,.222,.21,.194,.172,.275,.257,.258,.236,.201,.198,.198,.279];

/* ---------- Panel G enrichment ---------- */
const pathwaysG = ['Rrna Processing','Ribosome Biogenesis','Ribonucleoprotein Complex Biogenesis','Protein Localization','Organonitrogen Compound Biosynthetic Process','Ncrna Processing','Ncrna Metabolic Process','Macromolecule Localization','Heterocycle Metabolic Process','Establishment Of Protein Localization','Cellular Nitrogen Compound Metabolic Process','Cellular Macromolecule Localization','Cellular Component Organization Or Biogenesis','Cellular Component Biogenesis','Cellular Biosynthetic Process'];
const zG1 = [6.8,6.5,8.2,5.8,7.6,6.4,7.4,6.3,6.5,6.1,8.4,6.3,6.8,7.7,5.7];
const zG2 = [6.8,5.5,5.8,3.3,2.7,8.4,5.8,3.1,2.5,3.3,3.2,3.3,3.0,3.5,2.6];
const starsG1 = [3,3,3,3,3,3,3,3,3,3,3,3,3,3,3];
const starsG2 = [3,3,3,2,2,3,3,2,1,2,2,2,2,3,2];
const ticksG = [4,6,8];

/* ---------- Panel H enrichment ---------- */
const pathwaysH = ['Propanoate Metabolism','Metabolic Pathways','Dna Replication','Biosynthesis Of Cofactors'];
const zH1 = [4.6,3.0,2.4,3.05];
const zH2 = [3.6,2.6,5.3,2.75];
const starsH1 = [3,2,1,2];
const starsH2 = [1,2,2,1];
const ticksH = [3.0,3.5,4.0,4.5,5.0];

/* ---------- Helpers ---------- */
const NS = 'http://www.w3.org/2000/svg';
function make(tag, parent, name, interact) {
  const el = document.createElementNS(NS, tag);
  
  
  parent.appendChild(el);
  return el;
}
function rect(parent, name, x, y, w, h, fill) {
  const el = make('rect', parent, name);
  el.setAttribute('x', x); el.setAttribute('y', y);
  el.setAttribute('width', w); el.setAttribute('height', h);
  el.setAttribute('fill', fill);
  return el;
}
function line(parent, name, x1, y1, x2, y2, stroke, sw) {
  const el = make('line', parent, name);
  el.setAttribute('x1', x1); el.setAttribute('y1', y1);
  el.setAttribute('x2', x2); el.setAttribute('y2', y2);
  el.setAttribute('stroke', stroke); el.setAttribute('stroke-width', sw);
  return el;
}
function label(parent, name, x, cy, str, size, fill, weight, anchor, sx) {
  const el = make('text', parent, name);
  el.setAttribute('transform', 'translate(' + x + ' ' + (cy + 0.36 * size) + ') scale(' + (sx || 1) + ' 1)');
  el.setAttribute('font-size', size);
  el.setAttribute('fill', fill);
  el.setAttribute('font-weight', weight || 'normal');
  el.setAttribute('text-anchor', anchor || 'start');
  el.textContent = str;
  return el;
}
function hex(c) { return [parseInt(c.substr(1,2),16), parseInt(c.substr(3,2),16), parseInt(c.substr(5,2),16)]; }
function mix(a, b, t) {
  const A = hex(a), B = hex(b);
  return 'rgb(' + [0,1,2].map(function(i){ return Math.round(A[i] + (B[i]-A[i])*t); }).join(',') + ')';
}
function diverging(posMax, negMax) {
  return function(v) {
    if (v >= 0) return mix('#ffffff', '#e2633f', Math.min(1, v/posMax));
    return mix('#ffffff', '#6597c3', Math.min(1, -v/negMax));
  };
}
function sequential(stops, colors) {
  return function(v) {
    if (v <= stops[0]) return colors[0];
    for (let i = 1; i < stops.length; i++) {
      if (v <= stops[i]) return mix(colors[i-1], colors[i], (v-stops[i-1])/(stops[i]-stops[i-1]));
    }
    return colors[colors.length-1];
  };
}
function minus(s) { return String(s).replace('-', '−'); }
let gradId = 0;
function gradient(colorFn, vA, vB, horizontal) {
  const g = make('linearGradient', document.getElementById('defs'), 'colorbar-gradient');
  const id = 'grad' + (gradId++);
  g.setAttribute('id', id);
  g.setAttribute('x1', '0'); g.setAttribute('y1', '0');
  g.setAttribute('x2', horizontal ? '1' : '0'); g.setAttribute('y2', horizontal ? '0' : '1');
  for (let i = 0; i <= 24; i++) {
    const s = make('stop', g, 'gradient-stop');
    s.setAttribute('offset', i/24);
    s.setAttribute('stop-color', colorFn(vA + (vB-vA)*i/24));
  }
  return 'url(#' + id + ')';
}
function verticalColorbar(parent, prefix, colorFn, x, w, yTop, yBot, yOf, ticks, fmt, labelX, size, sx) {
  const vTop = yOf.inv(yTop), vBot = yOf.inv(yBot);
  rect(parent, prefix + '-colorbar', x, yTop, w, yBot-yTop, gradient(colorFn, vTop, vBot, false));
  ticks.forEach(function(t) {
    const y = yOf(t);
    line(parent, prefix + '-colorbar-tick', x, y, x+w*0.2, y, '#fff', 1.2);
    line(parent, prefix + '-colorbar-tick', x+w*0.8, y, x+w, y, '#fff', 1.2);
    label(parent, prefix + '-colorbar-label', labelX, y, minus(fmt(t)), size, '#444', 'normal', 'start', sx);
  });
}
function linearScale(v0, p0, v1, p1) {
  const f = function(v) { return p0 + (v-v0)*(p1-p0)/(v1-v0); };
  f.inv = function(p) { return v0 + (p-p0)*(v1-v0)/(p1-p0); };
  return f;
}

/* ---------- Module-trait heatmaps ---------- */
function traitHeatmap(o) {
  const p = document.getElementById(o.panel);
  const n = o.modules.length;
  const rowH = (o.bottom - o.top) / n;
  const colW = (o.right - o.left) / 2;
  const color = diverging(o.max, o.max);
  o.modules.forEach(function(m, i) {
    const y = o.top + i*rowH;
    rect(p, o.prefix + '-module-strip-' + m.toLowerCase(), o.stripX, y, o.stripW, rowH+0.3, o.colors[i]);
    label(p, o.prefix + '-row-label-' + m.toLowerCase(), o.labelX, y+rowH/2+o.labelOff, m, o.labelSize, '#595757', 'bold', o.labelAnchor, o.labelSx);
    [o.col1, o.col2].forEach(function(col, c) {
      const x = o.left + c*colW;
      rect(p, o.prefix + '-cell', x, y, colW, rowH, color(col[i]));
      const cx = x + colW/2;
      label(p, o.prefix + '-cell-correlation', cx, y+rowH/2+o.off1, minus(col[i].toFixed(3)), o.size, '#333', 'normal', 'middle', o.sx);
      const pTxt = o.paren ? '(' + o.pvals[i] + ')' : o.pvals[i];
      label(p, o.prefix + '-cell-pvalue', cx, y+rowH/2+o.off2, pTxt, o.size, '#333', 'normal', 'middle', o.sx);
    });
    if (i > 0) line(p, o.prefix + '-row-divider', o.left, y, o.right, y, '#111', o.inner);
  });
  line(p, o.prefix + '-column-divider', o.left+colW, o.top, o.left+colW, o.bottom, '#111', o.inner);
  const f = rect(p, o.prefix + '-frame', o.left, o.top, o.right-o.left, o.bottom-o.top, 'none');
  f.setAttribute('stroke', '#111');
  f.setAttribute('stroke-width', o.outer);
  verticalColorbar(p, o.prefix, color, o.barX, o.barW, o.barTop, o.barBot, o.barScale, o.ticks, o.fmt, o.barLabelX, o.tickSize, o.tickSx);
}
traitHeatmap({panel:'panel-a', prefix:'panel-a', modules:modulesA, col1:corA1, col2:corA2, pvals:pvalA, colors:colorsA, paren:true, max:1,
  top:189.5, bottom:839, left:116, right:287.5, stripX:78, stripW:23.5, labelX:48, labelOff:0, labelAnchor:'middle', labelSize:20, labelSx:.92,
  size:20, sx:.81, off1:-13, off2:12.5, inner:2.4, outer:3.6,
  barX:325, barW:32, barTop:439, barBot:622, barScale:linearScale(0,531.5,0.5,485), ticks:ticksA, fmt:function(t){return t.toFixed(1);}, barLabelX:366, tickSize:17, tickSx:1});
traitHeatmap({panel:'panel-d', prefix:'panel-d', modules:modulesD, col1:corD1, col2:corD2, pvals:pvalD, colors:colorsD, paren:false, max:0.57,
  top:139, bottom:889, left:1104, right:1257, stripX:1070, stripW:20.5, labelX:1059, labelOff:-1, labelAnchor:'end', labelSize:16, labelSx:1.12,
  size:15, sx:1.07, off1:-9, off2:8.5, inner:2.6, outer:3.2,
  barX:1292, barW:32, barTop:463, barBot:588, barScale:linearScale(0,525,0.5,470), ticks:ticksD, fmt:function(t){return t.toFixed(2);}, barLabelX:1334, tickSize:14, tickSx:1.12});

/* ---------- Expression heatmaps ---------- */
function softFilter(id, x, y, w, h) {
  const flt = make('filter', document.getElementById('defs'), 'heatmap-soften-filter');
  flt.setAttribute('id', id);
  flt.setAttribute('filterUnits', 'userSpaceOnUse');
  flt.setAttribute('x', x); flt.setAttribute('y', y);
  flt.setAttribute('width', w); flt.setAttribute('height', h);
  const b = make('feGaussianBlur', flt, 'heatmap-soften-blur');
  b.setAttribute('stdDeviation', '0.7 2.6');
}
function exprHeatmap(panel, prefix, matrix, nCols, x0, x1, y0, y1, color) {
  const parent = document.getElementById(panel);
  const fid = prefix + '-soften';
  softFilter(fid, x0, y0, x1-x0, y1-y0);
  const p = make('g', parent, prefix + '-cells');
  p.setAttribute('filter', 'url(#' + fid + ')');
  const x = linearScale(0, x0, nCols, x1);
  const y = linearScale(0, y0, matrix.length, y1);
  matrix.forEach(function(row, r) {
    row.forEach(function(v, c) {
      rect(p, prefix + '-cell', x(c), y(r), x(c+1)-x(c)+0.25, y(r+1)-y(r)+0.25, color(v));
    });
  });
}
const colorB = diverging(4.4, 3.4);
const colorE = diverging(5.2, 5.5);
exprHeatmap('panel-b', 'panel-b', exprB, 33, 476, 802, 58, 518.5, colorB);
exprHeatmap('panel-e', 'panel-e', exprE, 61, 1448, 1774, 58, 518.5, colorE);
verticalColorbar(document.getElementById('panel-b'), 'panel-b', colorB, 856.5, 19.5, 281, 399, linearScale(0,349,4,289.5), ticksB, function(t){return t;}, 882.5, 14, .85);
verticalColorbar(document.getElementById('panel-e'), 'panel-e', colorE, 1828, 20, 281, 399, linearScale(0,337.7,5,282.6), ticksE, function(t){return t.toFixed(1);}, 1854, 14, .85);

/* ---------- Scatter plots ---------- */
function scatter(o) {
  const p = document.getElementById(o.panel);
  o.xs.forEach(function(v, i) {
    const c = make('circle', p, o.prefix + '-point');
    c.setAttribute('cx', o.x(v));
    c.setAttribute('cy', o.y(o.ys[i]));
    c.setAttribute('r', o.r);
    c.setAttribute('fill', o.color);
    c.setAttribute('fill-opacity', o.alpha);
  });
  const f = rect(p, o.prefix + '-frame', o.left, o.top, o.w, o.h, 'none');
  f.setAttribute('stroke', '#222');
  f.setAttribute('stroke-width', 3.6);
  o.xTicks.forEach(function(t) {
    line(p, o.prefix + '-x-tick', o.x(t), o.top+o.h, o.x(t), o.top+o.h+5, '#444', 1.2);
    label(p, o.prefix + '-x-tick-label', o.x(t), o.top+o.h+13, t.toFixed(1), 12.5, '#999', 'normal', 'middle');
  });
  o.yTicks.forEach(function(t) {
    line(p, o.prefix + '-y-tick', o.left-5, o.y(t), o.left, o.y(t), '#444', 1.2);
    label(p, o.prefix + '-y-tick-label', o.left-8, o.y(t), t.toFixed(1), 12.5, '#999', 'normal', 'end');
  });
  const s = make('text', p, o.prefix + '-statistics');
  s.setAttribute('class', 'stat');
  s.setAttribute('x', o.statX); s.setAttribute('y', 692);
  s.setAttribute('textLength', 135);
  s.setAttribute('lengthAdjust', 'spacingAndGlyphs');
  s.innerHTML = o.stat;
}
scatter({panel:'panel-c', prefix:'panel-c', xs:mmC, ys:gsC, color:'#ee7549', alpha:.72, r:6.6,
  x:linearScale(0.4,582.7,1.0,907), y:linearScale(0.4,901,1.0,676), left:517, top:664, w:404, h:294,
  xTicks:xTicksC, yTicks:yTicksC, statX:533,
  stat:'<tspan font-style="italic">R</tspan> = 0.99, <tspan font-style="italic">p</tspan> &lt; 2.2e−16'});
scatter({panel:'panel-f', prefix:'panel-f', xs:mmF, ys:gsF, color:'#c9a67a', alpha:.3, r:6.8,
  x:linearScale(0.5,1531,0.9,1872.3), y:linearScale(0.2,884,0.6,702.7), left:1489, top:664, w:404, h:294,
  xTicks:xTicksF, yTicks:yTicksF, statX:1506,
  stat:'<tspan font-style="italic">R</tspan> = 0.43, <tspan font-style="italic">p</tspan> = 9.7e−09'});

/* ---------- Enrichment heatmaps ---------- */
function enrichment(o) {
  const p = document.getElementById(o.panel);
  o.rows.forEach(function(name, i) {
    const y = o.top + i*o.period;
    [[o.z1,o.s1,o.x1,o.w1,o.cx1],[o.z2,o.s2,o.x2,o.w2,o.cx2]].forEach(function(c) {
      rect(p, o.prefix + '-cell', c[2], y, c[3], o.h, o.color(c[0][i]));
      label(p, o.prefix + '-significance-stars', c[4], y+o.starOff+0.22*o.starSize, '*'.repeat(c[1][i]), o.starSize, '#111', 'bold', 'middle');
    });
    label(p, o.prefix + '-pathway-label', o.textX, y+o.h/2+o.textOff, name, o.textSize, '#595757', 'bold', 'start', o.textSx);
  });
  const lx = linearScale(o.tickV0, o.tickX0, o.tickV1, o.tickX1);
  rect(p, o.prefix + '-colorbar', o.barX, o.barY, o.barW, o.barH, gradient(o.color, lx.inv(o.barX), lx.inv(o.barX+o.barW), true));
  o.ticks.forEach(function(t) {
    line(p, o.prefix + '-colorbar-tick', lx(t), o.barY, lx(t), o.barY+o.barH*0.15, '#fff', 1.2);
    line(p, o.prefix + '-colorbar-tick', lx(t), o.barY+o.barH*0.85, lx(t), o.barY+o.barH, '#fff', 1.2);
    label(p, o.prefix + '-colorbar-label', lx(t), o.tickLabelY, o.fmt(t), o.tickSize, '#333', 'normal', 'middle', o.tickSx);
  });
}
enrichment({panel:'panel-g', prefix:'panel-g', rows:pathwaysG, z1:zG1, z2:zG2, s1:starsG1, s2:starsG2,
  color:sequential([2.5,3.3,4.5,5.6,6.5,7.5,8.4],['#ebf0f9','#c6d9ea','#8dbbd9','#4287bc','#2a6fb0','#14539c','#0d3f8b']),
  top:1080.7, period:55.05, h:49, x1:160, w1:116, cx1:220, x2:281.5, w2:113, cx2:338, starOff:11.5, starSize:42,
  textX:418.5, textOff:0, textSize:23, textSx:1.016,
  barX:233.5, barY:2059, barW:168.5, barH:35, tickV0:4, tickX0:277.5, tickV1:8, tickX1:393, ticks:ticksG, fmt:function(t){return String(t);},
  tickLabelY:2111, tickSize:17, tickSx:.82});
enrichment({panel:'panel-h', prefix:'panel-h', rows:pathwaysH, z1:zH1, z2:zH2, s1:starsH1, s2:starsH2,
  color:sequential([2.4,2.6,3.0,3.6,4.0,4.6,5.0,5.3],['#f5f4ae','#f6ec9c','#f6d37a','#f49c45','#ec7230','#e23d24','#c81e27','#a81e29']),
  top:1346, period:81.6, h:76, x1:1178, w1:76, cx1:1217, x2:1259, w2:72, cx2:1295, starOff:28.5, starSize:30,
  textX:1349, textOff:0, textSize:20, textSx:.85,
  barX:1223, barY:1806, barW:122, barH:29, tickV0:3, tickX0:1244, tickV1:5, tickX1:1333, ticks:ticksH, fmt:function(t){return t.toFixed(1);},
  tickLabelY:1850, tickSize:16, tickSx:.86});
</script>
</body>
</html>
